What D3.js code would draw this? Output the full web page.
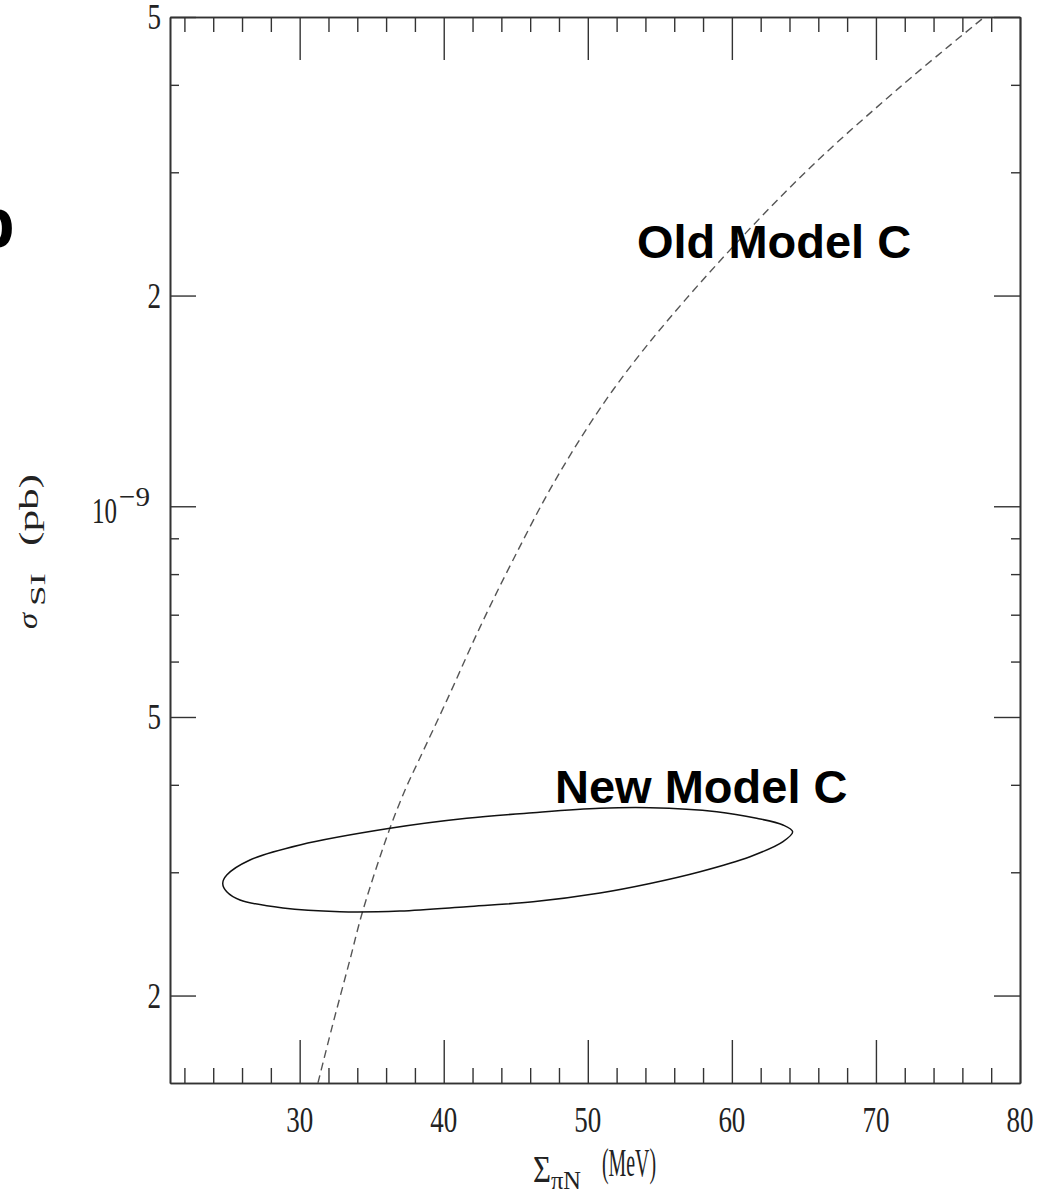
<!DOCTYPE html>
<html>
<head>
<meta charset="utf-8">
<script src="https://d3js.org/d3.v7.min.js"></script>
<style>
  body { margin: 0; background: #fff; }
  svg { display: block; }
  .axis .domain { stroke: #333; stroke-width: 1.6; }
  .axis line { stroke: #333; stroke-width: 1.4; }
  .num { font-family: "Liberation Serif", "DejaVu Serif", serif; fill: #222; }
  .tag { font-family: "Liberation Sans", Arial, sans-serif; font-weight: bold; fill: #000; }
</style>
</head>
<body>
<div id="chart"></div>
<script>
  // x: Sigma_piN in MeV, y: sigma_SI in pb (log)
  const xTicksMajor = [30, 40, 50, 60, 70, 80];
  const xTickLabels = ["30", "40", "50", "60", "70", "80"];
  const xTicksMinor = [22, 24, 26, 28, 32, 34, 36, 38, 42, 44, 46, 48,
                       52, 54, 56, 58, 62, 64, 66, 68, 72, 74, 76, 78];

  const yTicksMajor = [5e-9, 2e-9, 1e-9, 5e-10, 2e-10];
  const yTickLabels = ["5", "2", "10", "5", "2"];
  const yTickSups = ["", "", "\u22129", "", ""];
  const yTicksMinor = [4e-9, 3e-9, 9e-10, 8e-10, 7e-10, 6e-10, 4e-10, 3e-10];

  // dashed curve "Old Model C"
  const oldModelX = [31.27, 32.24, 33.49, 34.40, 36.27, 37.38, 38.28, 40.23, 42.52,
                     44.81, 47.86, 51.75, 56.75, 64.73, 71.67, 77.43];
  const oldModelY = [1.50e-10, 1.80e-10, 2.25e-10, 2.65e-10, 3.47e-10, 3.96e-10, 4.34e-10,
                     5.29e-10, 6.72e-10, 8.38e-10, 1.10e-9, 1.466e-9, 1.97e-9,
                     2.95e-9, 3.97e-9, 4.98e-9];

  // closed contour "New Model C"
  const newModelX = [24.66, 24.94, 26.55, 30.02, 36.27, 41.59, 46.20, 50.85, 54.32, 58.95,
                     61.72, 63.55, 64.22, 63.55, 61.26, 57.79, 54.32, 50.85, 46.20, 41.59,
                     36.96, 32.80, 28.84, 25.86, 24.94];
  const newModelY = [2.892e-10, 2.973e-10, 3.124e-10, 3.282e-10, 3.467e-10, 3.583e-10,
                     3.649e-10, 3.702e-10, 3.709e-10, 3.661e-10, 3.583e-10, 3.505e-10,
                     3.428e-10, 3.318e-10, 3.158e-10, 3.006e-10, 2.892e-10, 2.803e-10,
                     2.723e-10, 2.679e-10, 2.641e-10, 2.635e-10, 2.667e-10, 2.739e-10,
                     2.814e-10];

  const width = 1048, height = 1193;
  const plotLeft = 170, plotRight = 1020, plotTop = 17, plotBottom = 1083;

  const svg = d3.select("#chart").append("svg")
    .attr("width", width)
    .attr("height", height);

  const x = d3.scaleLinear().domain([21, 80]).range([plotLeft, plotRight]);
  const y = d3.scaleLog().domain([1.5e-10, 5e-9]).range([plotBottom, plotTop]);

  svg.append("clipPath").attr("id", "plot")
    .append("rect")
    .attr("x", plotLeft).attr("y", plotTop)
    .attr("width", plotRight - plotLeft).attr("height", plotBottom - plotTop);

  // ticks on all four sides, pointing inward
  const axes = [
    [d3.axisBottom(x), `translate(0,${plotBottom})`, xTicksMajor, 43],
    [d3.axisBottom(x), `translate(0,${plotBottom})`, xTicksMinor, 15],
    [d3.axisTop(x), `translate(0,${plotTop})`, xTicksMajor, 43],
    [d3.axisTop(x), `translate(0,${plotTop})`, xTicksMinor, 15],
    [d3.axisLeft(y), `translate(${plotLeft},0)`, yTicksMajor, 26],
    [d3.axisLeft(y), `translate(${plotLeft},0)`, yTicksMinor, 9],
    [d3.axisRight(y), `translate(${plotRight},0)`, yTicksMajor, 26],
    [d3.axisRight(y), `translate(${plotRight},0)`, yTicksMinor, 9]
  ];
  axes.forEach(([axis, tr, values, size]) => {
    svg.append("g")
      .attr("class", "axis")
      .attr("transform", tr)
      .call(axis.tickValues(values).tickSize(-size).tickSizeOuter(0).tickFormat(""));
  });

  // x tick labels
  xTicksMajor.forEach((v, i) => {
    svg.append("text")
      .attr("class", "num")
      .attr("transform", `translate(${x(v)},1132) scale(0.75,1)`)
      .attr("text-anchor", "middle")
      .attr("font-size", 36)
      .text(xTickLabels[i]);
  });

  // y tick labels; the power of ten gets a wide superscript
  yTicksMajor.forEach((v, i) => {
    if (yTickSups[i]) {
      svg.append("text")
        .attr("class", "num")
        .attr("x", 92).attr("y", y(v) + 17)
        .attr("font-size", 36)
        .attr("textLength", 25).attr("lengthAdjust", "spacingAndGlyphs")
        .text(yTickLabels[i]);
      svg.append("text")
        .attr("class", "num")
        .attr("x", 119).attr("y", y(v))
        .attr("font-size", 28)
        .attr("textLength", 31).attr("lengthAdjust", "spacingAndGlyphs")
        .text(yTickSups[i]);
    } else {
      svg.append("text")
        .attr("class", "num")
        .attr("transform", `translate(161,${y(v) + 12}) scale(0.75,1)`)
        .attr("text-anchor", "end")
        .attr("font-size", 36)
        .text(yTickLabels[i]);
    }
  });

  // x axis title: Sigma_piN (MeV)
  svg.append("text").attr("class", "num")
    .attr("x", 533).attr("y", 1182)
    .attr("font-size", 37)
    .attr("textLength", 18).attr("lengthAdjust", "spacingAndGlyphs")
    .text("\u03A3");
  svg.append("text").attr("class", "num")
    .attr("x", 551).attr("y", 1189)
    .attr("font-size", 26)
    .attr("textLength", 30).attr("lengthAdjust", "spacingAndGlyphs")
    .text("\u03C0N");
  svg.append("text").attr("class", "num")
    .attr("x", 602).attr("y", 1176)
    .attr("font-size", 40)
    .attr("textLength", 54).attr("lengthAdjust", "spacingAndGlyphs")
    .text("(MeV)");

  // y axis title: sigma_SI (pb), rotated
  svg.append("text").attr("class", "num")
    .attr("transform", "translate(37,629) rotate(-90)")
    .attr("font-size", 28).attr("font-style", "italic")
    .attr("textLength", 16).attr("lengthAdjust", "spacingAndGlyphs")
    .text("\u03C3");
  svg.append("text").attr("class", "num")
    .attr("transform", "translate(45,606) rotate(-90)")
    .attr("font-size", 20)
    .attr("textLength", 33).attr("lengthAdjust", "spacingAndGlyphs")
    .text("SI");
  svg.append("text").attr("class", "num")
    .attr("transform", "translate(38,546) rotate(-90)")
    .attr("font-family", "Liberation Mono, monospace")
    .attr("font-size", 28)
    .attr("textLength", 72).attr("lengthAdjust", "spacingAndGlyphs")
    .text("(pb)");

  const line = d3.line()
    .x(d => x(d[0]))
    .y(d => y(d[1]));

  svg.append("path")
    .datum(d3.zip(oldModelX, oldModelY))
    .attr("clip-path", "url(#plot)")
    .attr("d", line.curve(d3.curveCatmullRom))
    .attr("fill", "none")
    .attr("stroke", "#555")
    .attr("stroke-width", 1.4)
    .attr("stroke-dasharray", "8,5");

  svg.append("path")
    .datum(d3.zip(newModelX, newModelY))
    .attr("d", line.curve(d3.curveCatmullRomClosed))
    .attr("fill", "none")
    .attr("stroke", "#111")
    .attr("stroke-width", 1.5);

  svg.append("text").attr("class", "tag")
    .attr("x", 637).attr("y", 258)
    .attr("font-size", 47)
    .text("Old Model C");

  svg.append("text").attr("class", "tag")
    .attr("x", 555).attr("y", 803)
    .attr("font-size", 47)
    .text("New Model C");

  // cropped panel letter at the left edge
  svg.append("text").attr("class", "tag")
    .attr("x", -28).attr("y", 247)
    .attr("font-size", 70)
    .text("b");
</script>
</body>
</html>
